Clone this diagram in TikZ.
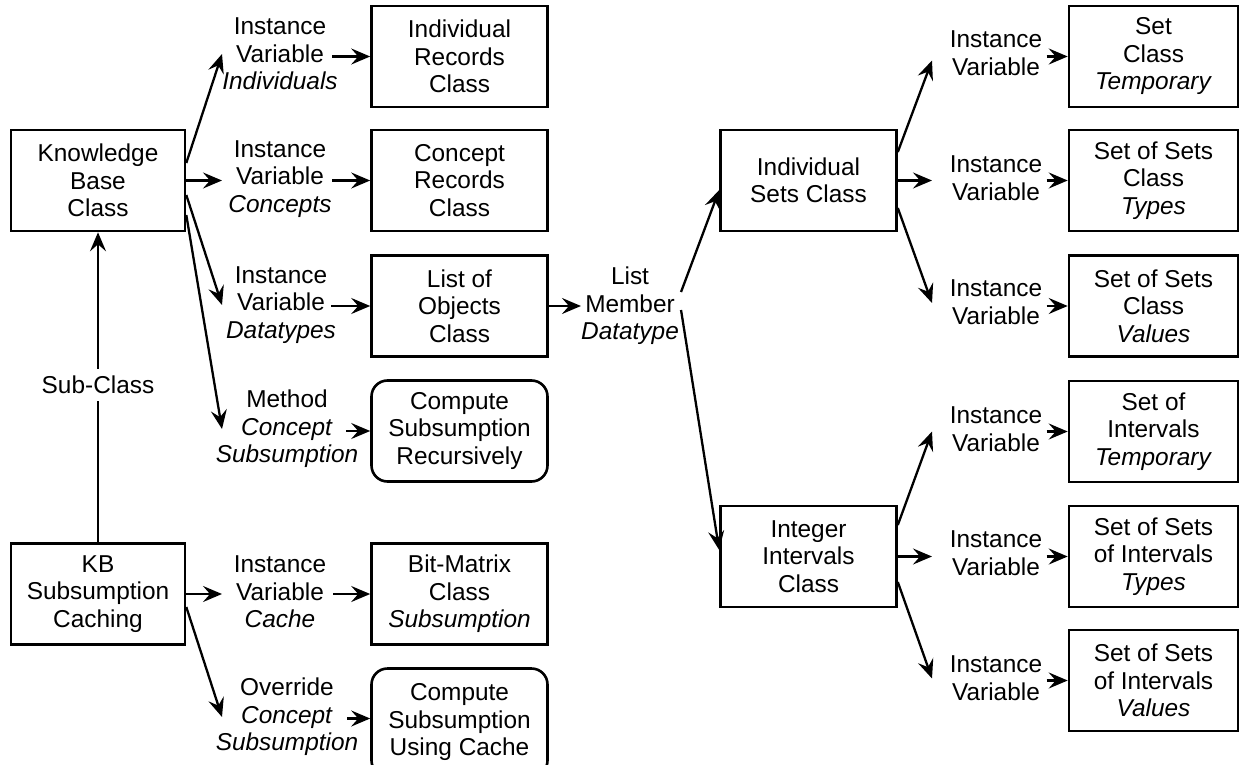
\documentclass[tikz,border=0pt]{standalone}
\usepackage{fontspec}
\setmainfont{Liberation Sans}
\usetikzlibrary{arrows.meta,calc}
\begin{document}
\begin{tikzpicture}[x=1pt,y=-1pt,
  every node/.style={font=\fontsize{24.4}{27.5}\selectfont, align=center, inner sep=0pt},
  box/.style={draw, line width=2.6pt, minimum width=176pt, minimum height=101pt},
  kbox/.style={box, minimum width=174pt},
  rbox/.style={box, minimum width=169pt},
  roundbox/.style={box, rounded corners=16pt},
  lab/.style={},
  conn/.style={line width=2.3pt, -{Stealth[length=19pt,width=16pt,inset=7pt]}},
  plain/.style={line width=2.3pt}
]
\useasboundingbox (0,0) rectangle (1239,765);
% left column
\node[kbox] (kb) at (98,180.5) {Knowledge\\Base\\Class};
\node[kbox] (kbsc) at (98,594) {KB\\Subsumption\\Caching};
\node[inner ysep=7pt] (sub) at (98,385) {Sub-Class};
% middle boxes
\node[box] (b1) at (459.5,56.5) {Individual\\Records\\Class};
\node[box] (b2) at (459.5,180.5) {Concept\\Records\\Class};
\node[box] (b3) at (459.5,306) {List of\\Objects\\Class};
\node[roundbox] (b4) at (459.5,431) {Compute\\Subsumption\\Recursively};
\node[box] (b5) at (459.5,594) {Bit-Matrix\\Class\\\textit{Subsumption}};
\node[roundbox, minimum height=108pt] (b6) at (459.5,722.5) {Compute\\Subsumption\\Using Cache};
% left labels
\node[lab] (l1) at (280,54) {Instance\\Variable\\\textit{Individuals}};
\node[lab] (l2) at (280,179) {Instance\\Variable\\\textit{Concepts}};
\node[lab] (l3) at (281,305) {Instance\\Variable\\\textit{Datatypes}};
\node[lab] (l4) at (287,429) {Method\\\textit{Concept}\\\textit{Subsumption}};
\node[lab] (l5) at (280,592) {Instance\\Variable\\\textit{Cache}};
\node[lab] (l6) at (287,717) {Override\\\textit{Concept}\\\textit{Subsumption}};
% list member
\node[lab] (lm) at (630,306) {List\\Member\\\textit{Datatype}};
% right middle boxes
\node[box] (is) at (808.5,180.5) {Individual\\Sets Class};
\node[box] (ii) at (808.5,556.5) {Integer\\Intervals\\Class};
% right labels
\node[lab] (v1) at (996,53) {Instance\\Variable};
\node[lab] (v2) at (996,178) {Instance\\Variable};
\node[lab] (v3) at (996,302) {Instance\\Variable};
\node[lab] (v4) at (996,429) {Instance\\Variable};
\node[lab] (v5) at (996,553) {Instance\\Variable};
\node[lab] (v6) at (996,678) {Instance\\Variable};
% right boxes
\node[rbox] (r1) at (1153.5,56.5) {Set\\Class\\\textit{Temporary}};
\node[rbox] (r2) at (1153.5,180.5) {Set of Sets\\Class\\\textit{Types}};
\node[rbox] (r3) at (1153.5,306) {Set of Sets\\Class\\\textit{Values}};
\node[rbox] (r4) at (1153.5,431.5) {Set of\\Intervals\\\textit{Temporary}};
\node[rbox] (r5) at (1153.5,556.5) {Set of Sets\\of Intervals\\\textit{Types}};
\node[rbox] (r6) at (1153.5,680.5) {Set of Sets\\of Intervals\\\textit{Values}};
% tip columns
\coordinate (tipL) at (222,0);
\coordinate (tipR) at (932,0);
% sub-class
\draw[plain] (kbsc) -- (sub);
\draw[conn] (sub) -- (kb);
% fans from knowledge base
\draw[conn] ($(kb.east)+(0,-17.5)$) -- (tipL |- l1.west);
\draw[conn] (kb.east) -- (tipL |- kb.east);
\draw[conn] ($(kb.east)+(0,14.5)$) -- (tipL |- l3.west);
\draw[conn] ($(kb.east)+(0,34.5)$) -- (tipL |- l4.west);
% fans from KB subsumption caching
\draw[conn] (kbsc.east) -- (tipL |- kbsc.east);
\draw[conn] ($(kbsc.east)+(0,13)$) -- (tipL |- l6.west);
% labels to boxes
\draw[conn] ($(b1.west)+(-38,0)$) -- (b1.west);
\draw[conn] ($(b2.west)+(-38,0)$) -- (b2.west);
\draw[conn] ($(b3.west)+(-39,0)$) -- (b3.west);
\draw[conn] ($(b4.west)+(-24,0)$) -- (b4.west);
\draw[conn] ($(b5.west)+(-37,0)$) -- (b5.west);
\draw[conn] ($(b6.west)+(-23,-4)$) -- ($(b6.west)+(0,-4)$);
% list member
\draw[conn] (b3.east) -- (lm.west |- b3.east);
\draw[conn] ($(lm.east)+(2,-14)$) -- ($(is.west)+(0,9.5)$);
\draw[conn] ($(lm.east)+(2,4)$) -- ($(ii.west)+(0,-6.5)$);
% fans from individual sets
\draw[conn] ($(is.east)+(0,-28.5)$) -- ($(tipR |- r1.west)+(0,4)$);
\draw[conn] (is.east) -- (tipR |- is.east);
\draw[conn] ($(is.east)+(0,27.5)$) -- ($(tipR |- r3.west)+(0,-3)$);
% fans from integer intervals
\draw[conn] ($(ii.east)+(0,-31.5)$) -- (tipR |- r4.west);
\draw[conn] (ii.east) -- (tipR |- ii.east);
\draw[conn] ($(ii.east)+(0,25.5)$) -- ($(tipR |- r6.west)+(0,-2)$);
% right labels to boxes
\draw[conn] ($(r1.west)+(-21,0)$) -- (r1.west);
\draw[conn] ($(r2.west)+(-21,0)$) -- (r2.west);
\draw[conn] ($(r3.west)+(-21,0)$) -- (r3.west);
\draw[conn] ($(r4.west)+(-21,0)$) -- (r4.west);
\draw[conn] ($(r5.west)+(-21,0)$) -- (r5.west);
\draw[conn] ($(r6.west)+(-21,0)$) -- (r6.west);
\end{tikzpicture}
\end{document}
